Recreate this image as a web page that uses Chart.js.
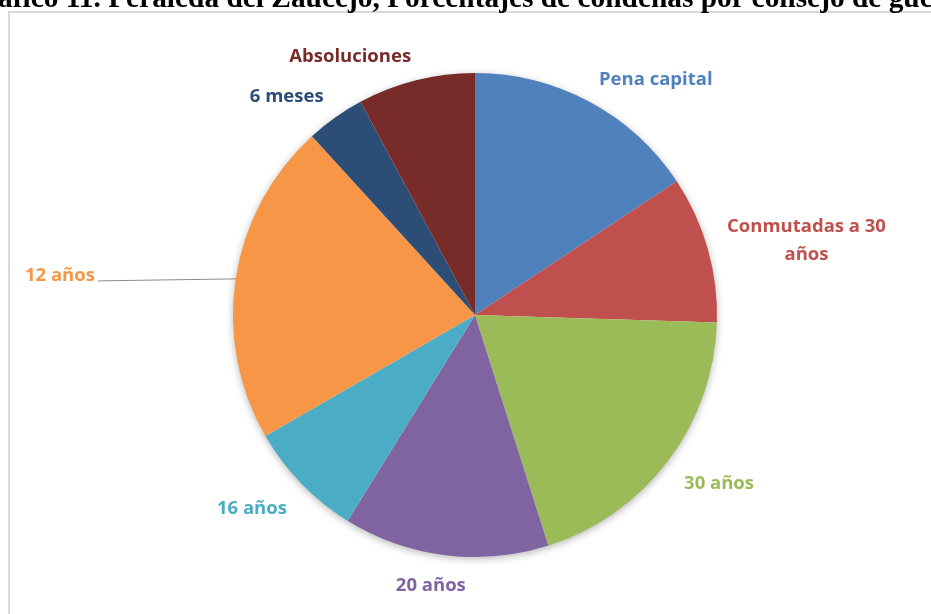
<!DOCTYPE html>
<html>
<head>
<meta charset="utf-8">
<script src="https://cdn.jsdelivr.net/npm/chart.js@4"></script>
<style>
    html, body { margin: 0; padding: 0; background: #fff; overflow: hidden; }
    #wrap { position: relative; width: 931px; height: 614px; overflow: hidden; }
    #title {
        position: absolute; top: -15px; left: 0; white-space: nowrap;
        font-family: "Liberation Serif", "Times New Roman", serif;
        font-weight: bold; line-height: 1; color: #000;
    }
    #frame {
        position: absolute; left: 8px; top: 11px; right: -10px; bottom: -10px;
        border-left: 2px solid #d9d9d9; border-top: 2px solid #d9d9d9;
    }
    #chart { position: absolute; left: 0; top: 0; }
</style>
</head>
<body>
<div id="wrap">
    <div id="frame"></div>
    <canvas id="chart" width="931" height="614"></canvas>
    <div id="title">Gráfico 11. Peraleda del Zaucejo, Porcentajes de condenas por consejo de guerra</div>
</div>
<script>
// condenas por consejo de guerra (número de casos)
const categories = ['Pena capital', 'Conmutadas a 30 años', '30 años', '20 años', '16 años', '12 años', '6 meses', 'Absoluciones'];
const counts = [8, 5, 10, 7, 4, 11, 2, 4];
const colors = ['#4F81BD', '#C0504D', '#9BBB59', '#8064A2', '#4BACC6', '#F79646', '#2C4D75', '#772C2A'];

const labelFont = 'bold 18.5px "Open Sans", sans-serif';

// fit the title so the visible part spans the page width
(function () {
    const title = document.getElementById('title');
    const c = document.createElement('canvas').getContext('2d');
    c.font = 'bold 100px "Liberation Serif"';
    const visible = c.measureText('áfico 11. Peraleda del Zaucejo, Porcentajes de condenas por consejo de gue').width;
    const size = 100 * 936 / visible;
    c.font = 'bold ' + size + 'px "Liberation Serif"';
    title.style.fontSize = size + 'px';
    title.style.left = (-c.measureText('Gr').width - 2) + 'px';
    title.style.top = (8 - size * 0.8375) + 'px';
})();

function wrapText(ctx, text, maxWidth) {
    const words = text.split(' ');
    const lines = [];
    let line = '';
    words.forEach(w => {
        const test = line ? line + ' ' + w : w;
        if (line && ctx.measureText(test).width > maxWidth) {
            lines.push(line);
            line = w;
        } else {
            line = test;
        }
    });
    lines.push(line);
    return lines;
}

// soft shadow under the whole pie
const pieShadow = {
    id: 'pieShadow',
    beforeDatasetsDraw(chart) {
        const arc = chart.getDatasetMeta(0).data[0];
        if (!arc) return;
        const ctx = chart.ctx;
        ctx.save();
        ctx.shadowColor = 'rgba(0,0,0,0.35)';
        ctx.shadowBlur = 9;
        ctx.shadowOffsetY = 2;
        ctx.fillStyle = '#fff';
        ctx.beginPath();
        ctx.arc(arc.x, arc.y, arc.outerRadius - 1, 0, Math.PI * 2);
        ctx.fill();
        ctx.restore();
    }
};

// category names outside the slices, coloured like the slice
const leaderLabels = { '12 años': 138 };
const outsideLabels = {
    id: 'outsideLabels',
    afterDatasetsDraw(chart) {
        const ctx = chart.ctx;
        const meta = chart.getDatasetMeta(0);
        const gap = 20, lineH = 28;
        ctx.save();
        ctx.font = labelFont;
        ctx.textBaseline = 'middle';
        meta.data.forEach((arc, i) => {
            const p = arc.getProps(['x', 'y', 'startAngle', 'endAngle', 'outerRadius'], true);
            const mid = (p.startAngle + p.endAngle) / 2;
            const cos = Math.cos(mid), sin = Math.sin(mid);
            const name = categories[i];
            ctx.fillStyle = colors[i];

            if (leaderLabels[name]) {
                const ax = p.x + cos * p.outerRadius;
                const ay = p.y + sin * p.outerRadius;
                const tx = ax - leaderLabels[name];
                ctx.textAlign = 'right';
                ctx.fillText(name, tx - 3, ay - 2);
                ctx.strokeStyle = '#8c8c8c';
                ctx.lineWidth = 1;
                ctx.beginPath();
                ctx.moveTo(tx, ay + 3);
                ctx.lineTo(ax, ay + 1);
                ctx.stroke();
                return;
            }

            const px = p.x + cos * (p.outerRadius + gap);
            const py = p.y + sin * (p.outerRadius + gap);
            const lines = wrapText(ctx, name, 170);
            const blockW = Math.max(...lines.map(l => ctx.measureText(l).width));
            const blockH = lines.length * lineH;

            let cx;
            if (cos > 0.2) cx = px + blockW / 2;
            else if (cos < -0.2) cx = px - blockW / 2;
            else cx = px - 12;

            let top;
            if (sin < -0.6) top = py - blockH + 10;
            else if (sin > 0.55) top = py - 3;
            else top = py - blockH / 2 - 3;

            ctx.textAlign = 'center';
            lines.forEach((l, k) => ctx.fillText(l, cx, top + lineH * (k + 0.5)));
        });
        ctx.restore();
    }
};

new Chart(document.getElementById('chart'), {
    type: 'pie',
    data: {
        labels: categories,
        datasets: [{
            data: counts,
            backgroundColor: colors,
            borderWidth: 0
        }]
    },
    options: {
        responsive: false,
        animation: false,
        layout: { padding: { left: 233, right: 214, top: 73, bottom: 57 } },
        plugins: {
            legend: { display: false },
            tooltip: { enabled: false }
        }
    },
    plugins: [pieShadow, outsideLabels]
});
</script>
</body>
</html>
